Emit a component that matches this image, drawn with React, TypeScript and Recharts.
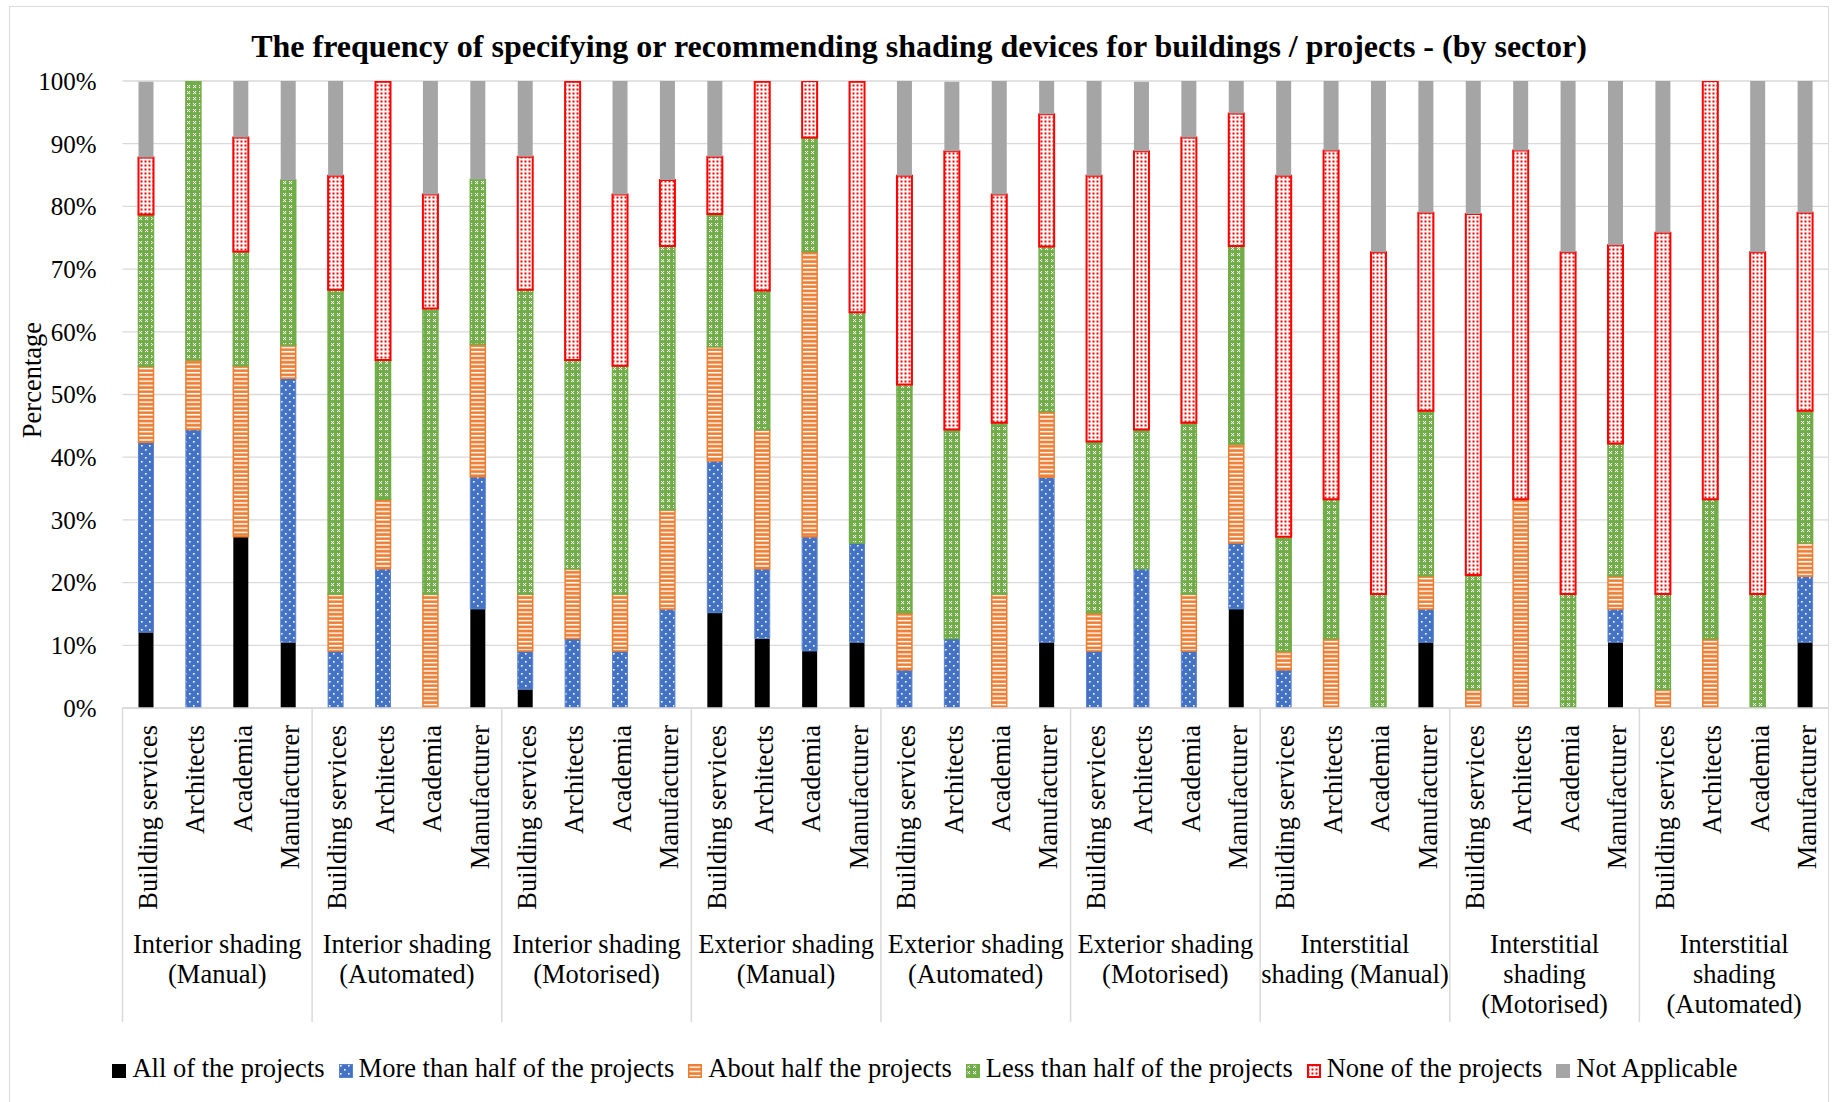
import { BarChart, Bar, XAxis, YAxis, CartesianGrid } from "recharts";

const sectors = ["Building services", "Architects", "Academia", "Manufacturer"];

const shadingTypes = [
  ["Interior shading", "(Manual)"],
  ["Interior shading", "(Automated)"],
  ["Interior shading", "(Motorised)"],
  ["Exterior shading", "(Manual)"],
  ["Exterior shading", "(Automated)"],
  ["Exterior shading", "(Motorised)"],
  ["Interstitial", "shading (Manual)"],
  ["Interstitial", "shading", "(Motorised)"],
  ["Interstitial", "shading", "(Automated)"],
];

// percentages, one entry per bar (9 shading types x 4 sectors)
const allOfProjects = [
  12.1, 0, 27.3, 10.5, 0, 0, 0, 15.8, 3.0, 0, 0, 0, 15.2, 11.1, 9.1, 10.5, 0, 0,
  0, 10.5, 0, 0, 0, 15.8, 0, 0, 0, 10.5, 0, 0, 0, 10.5, 0, 0, 0, 10.5,
];
const moreThanHalf = [
  30.3, 44.4, 0, 42.1, 9.1, 22.2, 0, 21.1, 6.1, 11.1, 9.1, 15.8, 24.2, 11.1,
  18.2, 15.8, 6.1, 11.1, 0, 26.3, 9.1, 22.2, 9.1, 10.5, 6.1, 0, 0, 5.3, 0, 0, 0,
  5.3, 0, 0, 0, 10.5,
];
const aboutHalf = [
  12.1, 11.1, 27.3, 5.3, 9.1, 11.1, 18.2, 21.1, 9.1, 11.1, 9.1, 15.8, 18.2,
  22.2, 45.5, 0, 9.1, 0, 18.2, 10.5, 6.1, 0, 9.1, 15.8, 3.0, 11.1, 0, 5.3, 3.0,
  33.3, 0, 5.3, 3.0, 11.1, 0, 5.3,
];
const lessThanHalf = [
  24.2, 44.4, 18.2, 26.3, 48.5, 22.2, 45.5, 26.3, 48.5, 33.3, 36.4, 42.1, 21.2,
  22.2, 18.2, 36.8, 36.4, 33.3, 27.3, 26.3, 27.3, 22.2, 27.3, 31.6, 18.2, 22.2,
  18.2, 26.3, 18.2, 0, 18.2, 21.1, 15.2, 22.2, 18.2, 21.1,
];
const noneOfProjects = [
  9.1, 0, 18.2, 0, 18.2, 44.4, 18.2, 0, 21.2, 44.4, 27.3, 10.5, 9.1, 33.3, 9.1,
  36.8, 33.3, 44.4, 36.4, 21.1, 42.4, 44.4, 45.5, 21.1, 57.6, 55.6, 54.5, 31.6,
  57.6, 55.6, 54.5, 31.6, 57.6, 66.7, 54.5, 31.6,
];
const notApplicable = [
  12.1, 0, 9.1, 15.8, 15.2, 0, 18.2, 15.8, 12.1, 0, 18.2, 15.8, 12.1, 0, 0, 0,
  15.2, 11.1, 18.2, 5.3, 15.2, 11.1, 9.1, 5.3, 15.2, 11.1, 27.3, 21.1, 21.2,
  11.1, 27.3, 26.3, 24.2, 0, 27.3, 21.1,
];

const yTicks = [0, 10, 20, 30, 40, 50, 60, 70, 80, 90, 100];

const FONT = "'Liberation Serif', 'Times New Roman', serif";
const GRID = "#d9d9d9";

const series = [
  { key: "all", name: "All of the projects", fill: "#000000", stroke: "none", sw: 0 },
  { key: "more", name: "More than half of the projects", fill: "url(#pBlue)", stroke: "#5b84cf", sw: 1 },
  { key: "about", name: "About half the projects", fill: "url(#pOrange)", stroke: "#ED7D31", sw: 1.5 },
  { key: "less", name: "Less than half of the projects", fill: "url(#pGreen)", stroke: "#70AD47", sw: 1.5 },
  { key: "none", name: "None of the projects", fill: "url(#pRed)", stroke: "#FF0000", sw: 2 },
  { key: "na", name: "Not Applicable", fill: "#A5A5A5", stroke: "none", sw: 0 },
];

const data = allOfProjects.map((_, i) => ({
  id: i,
  sector: sectors[i % 4],
  all: allOfProjects[i],
  more: moreThanHalf[i],
  about: aboutHalf[i],
  less: lessThanHalf[i],
  none: noneOfProjects[i],
  na: notApplicable[i],
}));

function Patterns() {
  return (
    <svg width={0} height={0} style={{ position: "absolute" }}>
      <defs>
        <pattern id="pBlue" width="8" height="8" patternUnits="userSpaceOnUse">
          <rect width="8" height="8" fill="#4472C4" />
          <rect x="1" y="1" width="1.6" height="1.6" fill="#fff" />
          <rect x="5" y="5" width="1.6" height="1.6" fill="#fff" />
        </pattern>
        <pattern id="pOrange" width="4" height="4.2" patternUnits="userSpaceOnUse">
          <rect width="4" height="4.2" fill="#ED7D31" />
          <rect y="2.4" width="4" height="1.5" fill="#fff" />
        </pattern>
        <pattern id="pGreen" width="6" height="6" patternUnits="userSpaceOnUse">
          <rect width="6" height="6" fill="#70AD47" />
          <rect x="1" y="1" width="1.1" height="1.1" fill="#fff" />
          <rect x="3" y="1" width="1.1" height="1.1" fill="#fff" />
          <rect x="2" y="2" width="1.1" height="1.1" fill="#fff" />
          <rect x="1" y="3" width="1.1" height="1.1" fill="#fff" />
          <rect x="3" y="3" width="1.1" height="1.1" fill="#fff" />
        </pattern>
        <pattern id="pRed" width="4" height="4" patternUnits="userSpaceOnUse">
          <rect width="4" height="4" fill="#fff" />
          <rect x="0.5" y="0.5" width="2" height="2" fill="#FF0000" />
        </pattern>
      </defs>
    </svg>
  );
}

function SectorTick(props: any) {
  const { x, y, payload } = props;
  const i: number = props.index ?? payload.index;
  const half: number = payload.offset ?? 23.7;
  const groupLines = shadingTypes[Math.floor(i / 4)];
  return (
    <g>
      <text
        transform={`translate(${x},${y + 17}) rotate(-90)`}
        textAnchor="end"
        dy="0.4em"
        fontSize={26.5}
        fontFamily={FONT}
        fill="#000"
      >
        {sectors[i % 4]}
      </text>
      {i % 4 === 0 && (
        <g>
          <line
            x1={x - half}
            x2={x - half}
            y1={y}
            y2={y + 314}
            stroke={GRID}
            strokeWidth={1.5}
          />
          <text
            textAnchor="middle"
            fontSize={26.5}
            fontFamily={FONT}
            fill="#000"
          >
            {groupLines.map((line, k) => (
              <tspan key={k} x={x + 3 * half} y={y + 245 + k * 30}>
                {line}
              </tspan>
            ))}
          </text>
        </g>
      )}
    </g>
  );
}

function LegendRow() {
  return (
    <div
      style={{
        position: "absolute",
        left: 15,
        width: 1820,
        top: 1053,
        display: "flex",
        justifyContent: "center",
        alignItems: "flex-start",
        gap: 14,
        fontFamily: FONT,
        fontSize: 26.5,
        lineHeight: "30px",
        color: "#000",
      }}
    >
      {series.map((s) => (
        <div key={s.key} style={{ display: "flex", alignItems: "flex-start" }}>
          <svg width={14} height={14} style={{ marginTop: 11, marginRight: 6 }}>
            <rect
              x={s.sw / 2}
              y={s.sw / 2}
              width={14 - s.sw}
              height={14 - s.sw}
              fill={s.fill}
              stroke={s.stroke}
              strokeWidth={s.sw}
            />
          </svg>
          <span style={{ whiteSpace: "nowrap" }}>{s.name}</span>
        </div>
      ))}
    </div>
  );
}

export default function App() {
  return (
    <div style={{ position: "relative", width: 1838, height: 1102, background: "#fff", overflow: "hidden" }}>
      <style>{"body{margin:0}"}</style>
      <Patterns />
      <div
        style={{
          position: "absolute",
          left: 9,
          top: 6,
          width: 1820,
          height: 1120,
          border: `1.5px solid ${GRID}`,
          boxSizing: "border-box",
        }}
      />
      <div
        style={{
          position: "absolute",
          left: 9,
          width: 1820,
          top: 30,
          textAlign: "center",
          fontFamily: FONT,
          fontWeight: "bold",
          fontSize: 32,
          lineHeight: "32px",
          color: "#000",
          whiteSpace: "nowrap",
        }}
      >
        The frequency of specifying or recommending shading devices for buildings / projects - (by sector)
      </div>
      <div
        style={{
          position: "absolute",
          left: 32,
          top: 380,
          transform: "translate(-50%, -50%) rotate(-90deg)",
          fontFamily: FONT,
          fontSize: 26.5,
          lineHeight: "30px",
          whiteSpace: "nowrap",
          color: "#000",
        }}
      >
        Percentage
      </div>
      <div style={{ position: "absolute", left: 0, top: 0 }}>
        <BarChart
          width={1838}
          height={1102}
          data={data}
          margin={{ top: 81, right: 9, bottom: 0, left: 0 }}
          barSize={15}
        >
          <CartesianGrid vertical={false} stroke={GRID} strokeWidth={1.3} />
          <XAxis
            dataKey="id"
            interval={0}
            height={394}
            tickLine={false}
            tickSize={0}
            tickMargin={0}
            axisLine={{ stroke: GRID, strokeWidth: 1.5 }}
            tick={<SectorTick />}
          />
          <YAxis
            type="number"
            width={122.5}
            domain={[0, 100]}
            allowDataOverflow
            ticks={yTicks}
            tickFormatter={(v) => `${v}%`}
            axisLine={false}
            tickLine={false}
            tickSize={0}
            tickMargin={26}
            tick={{ fontSize: 25, fontFamily: FONT, fill: "#000" }}
          />
          {series.map((s) => (
            <Bar
              key={s.key}
              dataKey={s.key}
              name={s.name}
              stackId="s"
              fill={s.fill}
              stroke={s.stroke}
              strokeWidth={s.sw}
              isAnimationActive={false}
            />
          ))}
        </BarChart>
      </div>
      <LegendRow />
    </div>
  );
}
